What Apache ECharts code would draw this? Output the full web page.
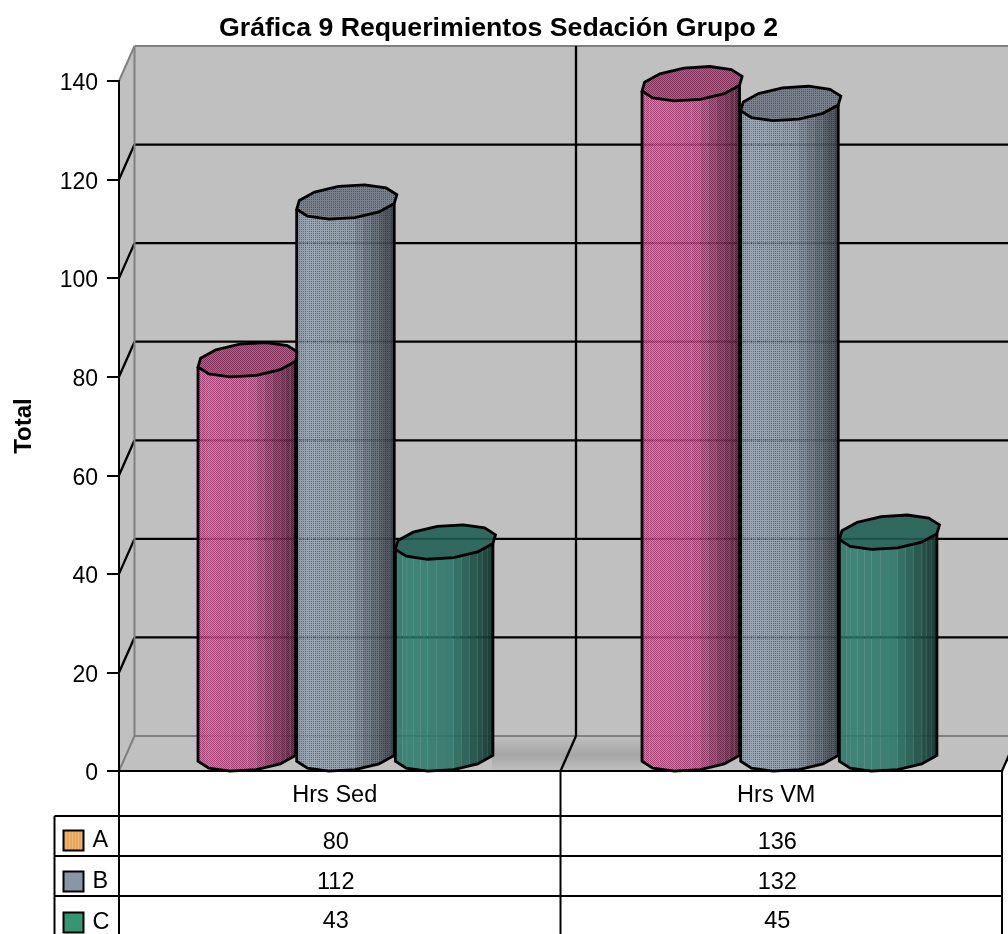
<!DOCTYPE html>
<html>
<head>
<meta charset="utf-8">
<style>html,body{margin:0;padding:0;background:#fff}#chart{width:1008px;height:934px}</style>
<script src="https://cdn.jsdelivr.net/npm/echarts@6/dist/echarts.min.js"></script>
</head>
<body>
<div id="chart"></div>
<script>
const chartTitle = 'Gráfica 9 Requerimientos Sedación Grupo 2';
const axisName = 'Total';
const categories = ['Hrs Sed', 'Hrs VM'];
const seriesNames = ['A', 'B', 'C'];
const valuesA = [80, 136];
const valuesB = [112, 132];
const valuesC = [43, 45];
const seriesValues = [valuesA, valuesB, valuesC];
const yTicks = [0, 20, 40, 60, 80, 100, 120, 140];

const FONT = '"Liberation Sans", Arial, sans-serif';
const DEPTH_X = 15.5, DEPTH_Y = 35;

// Small repeating tile used as a dithered fill.
function tile(rows, alpha) {
  const c = document.createElement('canvas');
  c.height = rows.length; c.width = rows[0].length;
  const g = c.getContext('2d');
  g.globalAlpha = alpha;
  rows.forEach((row, y) => row.forEach((col, x) => { g.fillStyle = col; g.fillRect(x, y, 1, 1); }));
  return { image: c, repeat: 'repeat' };
}
const P = '#A82C6C', O = '#E89048', L = '#9AA8B8', D = '#566078', G = '#2C8070', U = '#4E6C84';
const bodyFill = [
  tile([[P, O], [O, P]], 0.86),
  tile([[L, L], [L, D]], 0.86),
  tile([[G, U], [U, G]], 0.86)
];
const swatchFill = [
  tile([['#F2B672', '#D8964E', '#F2B672']], 1),
  tile([[L, L], [L, D]], 1),
  tile([['#2FA862', '#2FA862'], ['#2FA862', '#4A5CA0']], 1)
];

// Darkening across the cylinder, 0 at the left edge to 1 at the right edge.
function shade(f) {
  if (f < 0.12) return 0.10 - f * 0.6;
  if (f < 0.55) return 0.03 + (f - 0.12) * 0.12;
  return 0.08 + (f - 0.55) * 1.05;
}

const SIDES = 12, BAND_STEPS = 3;
function rim(cx, cy, t) {
  return [cx + 50.5 * Math.cos(t) + 5 * Math.sin(t), cy - 17 * Math.sin(t) - 3 * Math.cos(t)];
}

function renderCylinder(params, api) {
  const s = params.seriesIndex - 1;
  const idx = api.value(0);
  const front = api.coord([idx, api.value(1)]);
  const base = api.coord([idx, 0]);
  const slot = api.size([1, 0])[0] * 0.2235;
  const cx = front[0] + 7 + 2.5 * idx + (s - 1) * slot;
  const topY = front[1] - 17, botY = base[1] - 17;
  const kids = [];
  const step = Math.PI * 2 / SIDES;
  const start = Math.PI + step / 2;            // front-left corner
  const count = SIDES / 2 - 1;                 // front faces
  const xL = rim(cx, topY, start)[0], xR = rim(cx, topY, start + count * step)[0];
  const fill = bodyFill[s];

  for (let i = 0; i < count * BAND_STEPS; i++) {
    const a0 = start + Math.floor(i / BAND_STEPS) * step, a1 = a0 + step;
    const mix = (y, u) => {
      const p = rim(cx, y, a0), q = rim(cx, y, a1);
      return [p[0] + (q[0] - p[0]) * u, p[1] + (q[1] - p[1]) * u];
    };
    const u0 = (i % BAND_STEPS) / BAND_STEPS, u1 = u0 + 1 / BAND_STEPS;
    const quad = [mix(topY, u0), mix(topY, u1), mix(botY, u1), mix(botY, u0)];
    const f = ((quad[0][0] + quad[1][0]) / 2 - xL) / (xR - xL);
    kids.push({ type: 'polygon', shape: { points: quad }, style: { fill: fill } });
    kids.push({ type: 'polygon', shape: { points: quad }, style: { fill: 'rgba(0,0,0,' + shade(f).toFixed(3) + ')' } });
  }

  // Outline of the sides and the lower rim.
  const outline = [rim(cx, topY, start)];
  for (let i = 0; i <= count; i++) outline.push(rim(cx, botY, start + i * step));
  outline.push(rim(cx, topY, start + count * step));
  kids.push({ type: 'polyline', shape: { points: outline }, style: { fill: 'none', stroke: '#000', lineWidth: 2.8 } });

  // Top cap.
  const cap = [];
  for (let i = 0; i < SIDES; i++) cap.push(rim(cx, topY, start + i * step));
  kids.push({ type: 'polygon', shape: { points: cap }, style: { fill: fill } });
  kids.push({ type: 'polygon', shape: { points: cap }, style: { fill: 'rgba(0,0,0,0.24)', stroke: '#000', lineWidth: 2.8 } });
  return { type: 'group', children: kids };
}

// Walls, floor, gridlines and the lines of the data table.
function renderFrame(params, api) {
  const cs = params.coordSys;
  const left = cs.x, right = cs.x + cs.width, bottom = cs.y + cs.height;
  const yOf = v => api.coord([0, v])[1];
  const top = yOf(yTicks[yTicks.length - 1]);
  const bx = left + DEPTH_X, by = bottom - DEPTH_Y, tb = top - DEPTH_Y;
  const catW = api.size([1, 0])[0];
  const kids = [];
  const line = (x1, y1, x2, y2, stroke, w) => kids.push({
    type: 'line', shape: { x1, y1, x2, y2 }, style: { stroke: stroke, lineWidth: w || 2 }
  });
  const poly = (points, fill) => kids.push({ type: 'polygon', shape: { points }, style: { fill } });

  poly([[bx, tb], [right + DEPTH_X, tb], [right + DEPTH_X, by], [bx, by]], '#C0C0C0');
  poly([[left, top], [bx, tb], [bx, by], [left, bottom]], '#C0C0C0');
  poly([[left, bottom], [bx, by], [right + DEPTH_X, by], [right, bottom]], '#C0C0C0');
  kids.push({
    type: 'rect', shape: { x: 492, y: by + 1, width: 152, height: DEPTH_Y - 2 },
    style: { fill: new echarts.graphic.LinearGradient(0, 0, 0, 1, [
      { offset: 0, color: '#BEBEBE' }, { offset: 0.55, color: '#A6A6A6' }, { offset: 1, color: '#BEBEBE' }
    ]) }
  });

  yTicks.slice(1, -1).forEach(v => {
    const y = yOf(v);
    line(left, y, bx, y - DEPTH_Y, '#000', 2.3);
    line(bx, y - DEPTH_Y, right + DEPTH_X, y - DEPTH_Y, '#000', 2.3);
  });
  line(left, top, bx, tb, '#808080');
  line(bx, tb, right + DEPTH_X, tb, '#808080');
  line(bx, tb, bx, by, '#808080');
  line(bx, by, right + DEPTH_X, by, '#808080');
  line(left, bottom, bx, by, '#808080');
  for (let i = 1; i <= categories.length; i++) {
    const x = left + catW * i;
    line(x, bottom, x + DEPTH_X, by, '#000', 2.3);
    if (i < categories.length) line(x + DEPTH_X, by, x + DEPTH_X, tb, '#000', 2.3);
  }
  // Table rules below the axis.
  const rows = [816, 856, 896];
  rows.forEach(y => line(54.5, y, right, y, '#000'));
  line(54.5, rows[0], 54.5, 934, '#000');
  line(left, bottom, left, 934, '#000');
  for (let i = 1; i <= categories.length; i++) {
    const x = left + catW * i;
    line(x, bottom, x, 934, '#000');
  }
  return { type: 'group', children: kids };
}

function renderCell(params, api) {
  const p = api.coord([api.value(0), 0]);
  return {
    type: 'text',
    style: {
      text: String(api.value(2)), x: p[0] - 4, y: 843 + api.value(1) * 39.5,
      font: '23.5px ' + FONT, fill: '#000', align: 'center', verticalAlign: 'middle'
    }
  };
}

const cells = [];
seriesValues.forEach((vals, r) => vals.forEach((v, c) => cells.push([c, r, v])));

const option = {
  animation: false,
  backgroundColor: '#fff',
  title: {
    text: chartTitle, left: 219, top: 15, padding: 0,
    textStyle: { fontFamily: FONT, fontSize: 26.7, fontWeight: 'bold', color: '#000' }
  },
  legend: {
    left: 62.5, top: 828.5, height: 200, padding: 0, orient: 'vertical', itemWidth: 20, itemHeight: 20, itemGap: 17,
    selectedMode: false, icon: 'rect',
    textStyle: { fontFamily: FONT, fontSize: 23.5, lineHeight: 16, color: '#000', padding: [7, 0, 0, 4] },
    data: seriesNames.map((name, i) => ({
      name, itemStyle: { color: swatchFill[i], borderColor: '#000', borderWidth: 2 }
    }))
  },
  grid: { left: 119, top: 81, width: 883, height: 690 },
  xAxis: {
    type: 'category', data: categories,
    axisLine: { show: true, lineStyle: { color: '#000', width: 2 } },
    axisTick: { show: false },
    axisLabel: { margin: 13, fontFamily: FONT, fontSize: 23.5, color: '#000', interval: 0, padding: [0, 10, 0, 0] },
    z: 5
  },
  yAxis: {
    type: 'value', min: 0, max: 140, interval: 20,
    name: axisName, nameLocation: 'middle', nameGap: 83, nameRotate: 90,
    nameTextStyle: { fontFamily: FONT, fontSize: 24, fontWeight: 'bold', color: '#000' },
    axisLine: { show: true, lineStyle: { color: '#000', width: 2 } },
    axisTick: { show: true, length: 12, lineStyle: { color: '#000', width: 2 } },
    axisLabel: { margin: 21, fontFamily: FONT, fontSize: 23, color: '#000', verticalAlign: 'top', lineHeight: 6 },
    splitLine: { show: false },
    z: 5
  },
  series: [
    { type: 'custom', name: 'frame', renderItem: renderFrame, data: [[0, 0]], silent: true, z: 1 },
    ...seriesNames.map((name, s) => ({
      type: 'custom', name, renderItem: renderCylinder, z: 3 + s,
      encode: { x: 0, y: 1 },
      data: seriesValues[s].map((v, c) => [c, v])
    })),
    { type: 'custom', name: 'table', renderItem: renderCell, data: cells, silent: true, z: 8, encode: { x: 0, y: 1 } }
  ]
};

const chart = echarts.init(document.getElementById('chart'), null, { renderer: 'canvas' });
chart.setOption(option);
</script>
</body>
</html>
